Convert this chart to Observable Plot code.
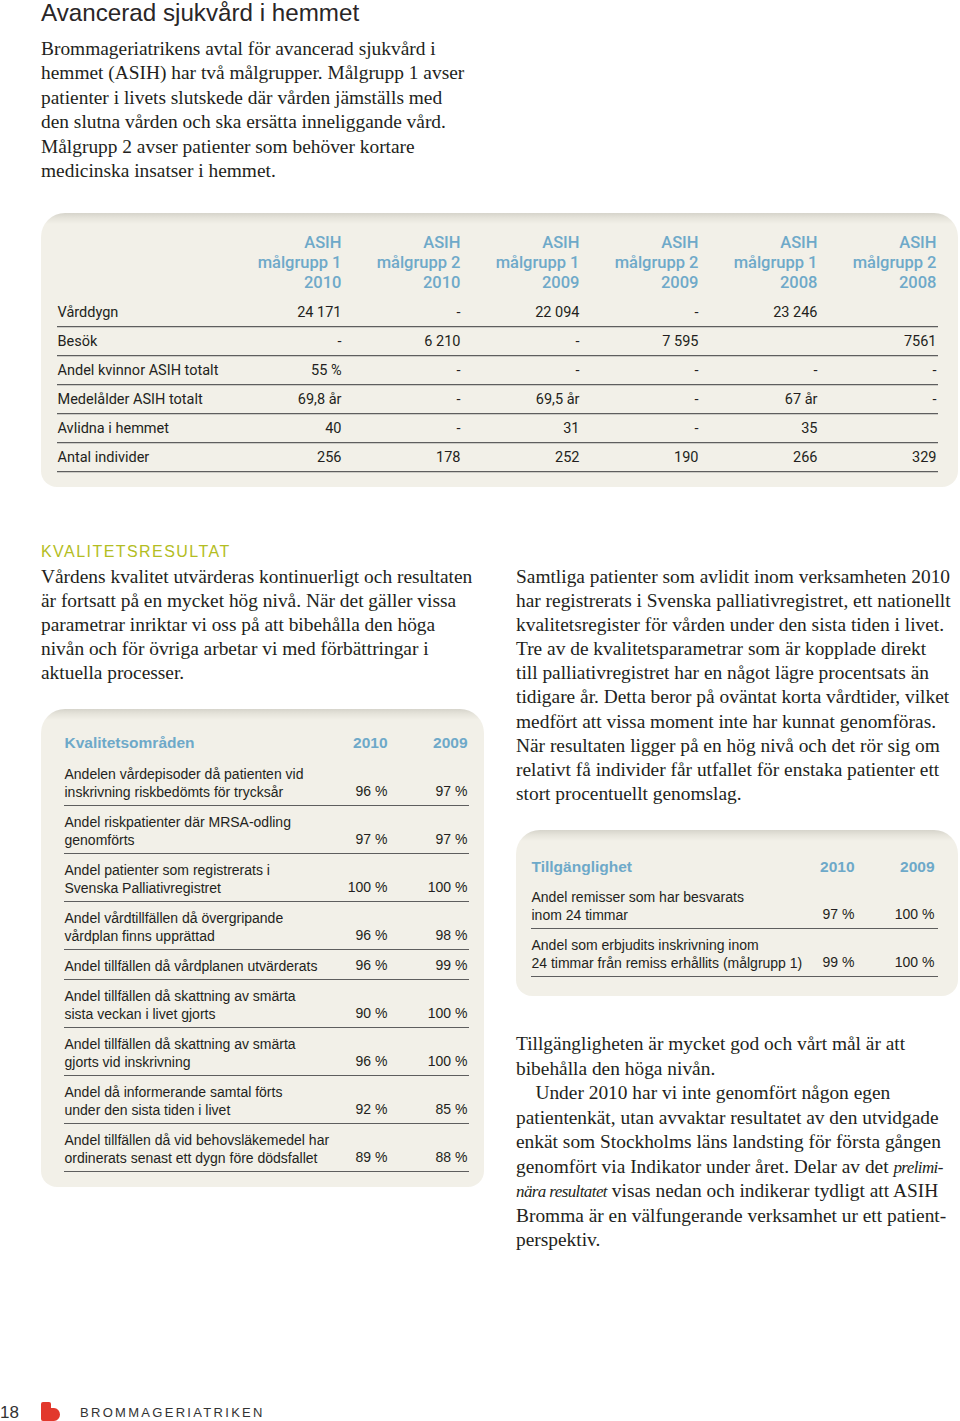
<!DOCTYPE html>
<html lang="sv">
<head>
<meta charset="utf-8">
<script src="https://cdn.jsdelivr.net/npm/d3@7"></script>
<script src="https://cdn.jsdelivr.net/npm/@observablehq/plot@0.6"></script>
<style>
  html, body { margin: 0; padding: 0; background: #fff; }
  #page { position: relative; width: 960px; height: 1421px; overflow: hidden; color: #231f20; }
  .serif { position: absolute; font-family: "Liberation Serif", serif; font-size: 19.4px; white-space: pre; color: #231f20; }
  .serif i { font-size: 17px; letter-spacing: -0.6px; line-height: 1; }
  .sans { position: absolute; font-family: "Liberation Sans", sans-serif; white-space: pre; }
  .box { position: absolute; border-radius: 24px 24px 16px 16px;
         background: linear-gradient(to bottom, #d6d4cb 0px, #e6e4db 5px, #f2f0e8 11px, #f2f0e8 100%); }
  .box svg { position: absolute; left: 0; top: 0; overflow: visible; }
</style>
</head>
<body>
<div id="page">
  <div class="sans" style="left:41px; top:-1px; font-size:24.2px; line-height:28px; color:#2a2627;">Avancerad sjukvård i hemmet</div>

  <div class="serif" style="left:41px; top:37px; line-height:24.4px;">Brommageriatrikens avtal för avancerad sjukvård i
hemmet (ASIH) har två målgrupper. Målgrupp 1 avser
patienter i livets slutskede där vården jämställs med
den slutna vården och ska ersätta inneliggande vård.
Målgrupp 2 avser patienter som behöver kortare
medicinska insatser i hemmet.</div>

  <div class="box" id="box1" style="left:41px; top:213px; width:917px; height:274px;"></div>

  <div class="sans" style="left:41px; top:542px; font-size:16px; line-height:20px; letter-spacing:1.45px; color:#b3bd22;">KVALITETSRESULTAT</div>

  <div class="serif" style="left:41px; top:565px; line-height:24px;">Vårdens kvalitet utvärderas kontinuerligt och resultaten
är fortsatt på en mycket hög nivå. När det gäller vissa
parametrar inriktar vi oss på att bibehålla den höga
nivån och för övriga arbetar vi med förbättringar i
aktuella processer.</div>

  <div class="serif" style="left:516px; top:565px; line-height:24.1px;">Samtliga patienter som avlidit inom verksamheten 2010
har registrerats i Svenska palliativregistret, ett nationellt
kvalitetsregister för vården under den sista tiden i livet.
Tre av de kvalitetsparametrar som är kopplade direkt
till palliativregistret har en något lägre procentsats än
tidigare år. Detta beror på oväntat korta vårdtider, vilket
medfört att vissa moment inte har kunnat genomföras.
När resultaten ligger på en hög nivå och det rör sig om
relativt få individer får utfallet för enstaka patienter ett
stort procentuellt genomslag.</div>

  <div class="box" id="box2" style="left:41px; top:709px; width:443px; height:478px;"></div>
  <div class="box" id="box3" style="left:516px; top:830px; width:442px; height:166px;"></div>

  <div class="serif" style="left:516px; top:1032px; line-height:24.5px;">Tillgängligheten är mycket god och vårt mål är att
bibehålla den höga nivån.
    Under 2010 har vi inte genomfört någon egen
patientenkät, utan avvaktar resultatet av den utvidgade
enkät som Stockholms läns landsting för första gången
genomfört via Indikator under året. Delar av det <i>prelimi-</i>
<i>nära resultatet</i> visas nedan och indikerar tydligt att ASIH
Bromma är en välfungerande verksamhet ur ett patient-
perspektiv.</div>

  <div class="sans" style="left:0px; top:1402px; font-size:17px; line-height:22px; color:#333;">18</div>
  <svg style="position:absolute; left:41px; top:1402px;" width="20" height="19" viewBox="0 0 20 19">
    <path d="M0,2 Q0,0 2,0 L8,0 Q10,0 10,2 L10,6 L13,6 A6,6.5 0 0 1 13,19 L2,19 Q0,19 0,17 Z" fill="#e2382c"/>
  </svg>
  <div class="sans" style="left:80px; top:1404px; font-size:13px; line-height:18px; letter-spacing:2.3px; color:#333;">BROMMAGERIATRIKEN</div>
</div>

<script>
// ---------- DATA ----------
const t1Columns = [
  "ASIH\nmålgrupp 1\n2010", "ASIH\nmålgrupp 2\n2010",
  "ASIH\nmålgrupp 1\n2009", "ASIH\nmålgrupp 2\n2009",
  "ASIH\nmålgrupp 1\n2008", "ASIH\nmålgrupp 2\n2008"
];
const t1Rows = [
  "Vårddygn", "Besök", "Andel kvinnor ASIH totalt",
  "Medelålder ASIH totalt", "Avlidna i hemmet", "Antal individer"
];
const t1Values = [
  ["24 171", "-", "22 094", "-", "23 246", ""],
  ["-", "6 210", "-", "7 595", "", "7561"],
  ["55 %", "-", "-", "-", "-", "-"],
  ["69,8 år", "-", "69,5 år", "-", "67 år", "-"],
  ["40", "-", "31", "-", "35", ""],
  ["256", "178", "252", "190", "266", "329"]
];

const qualityHeader = ["Kvalitetsområden", "2010", "2009"];
const qualityLabels = [
  "Andelen vårdepisoder då patienten vid\ninskrivning riskbedömts för trycksår",
  "Andel riskpatienter där MRSA-odling\ngenomförts",
  "Andel patienter som registrerats i\nSvenska Palliativregistret",
  "Andel vårdtillfällen då övergripande\nvårdplan finns upprättad",
  "Andel tillfällen då vårdplanen utvärderats",
  "Andel tillfällen då skattning av smärta\nsista veckan i livet gjorts",
  "Andel tillfällen då skattning av smärta\ngjorts vid inskrivning",
  "Andel då informerande samtal förts\nunder den sista tiden i livet",
  "Andel tillfällen då vid behovsläkemedel har\nordinerats senast ett dygn före dödsfallet"
];
const quality2010 = ["96 %", "97 %", "100 %", "96 %", "96 %", "90 %", "96 %", "92 %", "89 %"];
const quality2009 = ["97 %", "97 %", "100 %", "98 %", "99 %", "100 %", "100 %", "85 %", "88 %"];

const accessHeader = ["Tillgänglighet", "2010", "2009"];
const accessLabels = [
  "Andel remisser som har besvarats\ninom 24 timmar",
  "Andel som erbjudits inskrivning inom\n24 timmar från remiss erhållits (målgrupp 1)"
];
const access2010 = ["97 %", "99 %"];
const access2009 = ["100 %", "100 %"];

// ---------- STYLE ----------
const blue = "#6ea9c9";
const ink = "#231f20";
const ruleColor = "#5e5e5e";

// ---------- TABLE 1 ----------
{
  const W = 917, H = 274, mL = 16, mR = 20, mT = 83.4, mB = 15.4, labelW = 282;
  const cells = t1Rows.flatMap((r, i) => t1Columns.map((c, j) => ({row: r, col: c, value: t1Values[i][j]})));
  const band = (H - mT - mB) / t1Rows.length;
  const plot = Plot.plot({
    width: W, height: H,
    marginLeft: mL, marginRight: mR, marginTop: mT, marginBottom: mB,
    style: {background: "transparent", overflow: "visible", fontFamily: "Roboto, 'Liberation Sans', sans-serif"},
    x: {type: "point", domain: t1Columns, range: [mL + labelW, W - mR], padding: 0},
    y: {type: "band", domain: t1Rows, padding: 0, axis: null},
    marks: [
      Plot.axisX({anchor: "top", tickSize: 0, tickPadding: 9, label: null, textAnchor: "end",
                  color: blue, fontSize: 16.5, fontWeight: 500, lineHeight: 1.21}),
      Plot.ruleY(t1Rows, {y: d => d, dy: band / 2, stroke: ruleColor, strokeWidth: 1.2}),
      Plot.text(t1Rows, {y: d => d, text: d => d, frameAnchor: "left", textAnchor: "start",
                         fill: ink, fontSize: 14.5}),
      Plot.text(cells, {x: "col", y: "row", text: "value", textAnchor: "end", fill: ink, fontSize: 14.5})
    ]
  });
  document.getElementById("box1").appendChild(plot);
}

// ---------- LIST TABLES (2 & 3) ----------
function listTable({W, H, mL, mR, headerY, firstTop, colRight, header, labels, v1, v2}) {
  const fontSize = 14, lineGap = 18, firstLine = 16, after = 14;
  let top = firstTop;
  const rows = labels.map((label, i) => {
    const n = label.split("\n").length;
    const r = {label, n, top, values: [v1[i], v2[i]]};
    r.center = top + firstLine + (n - 1) * lineGap / 2;
    r.last = top + firstLine + (n - 1) * lineGap;
    top = r.last + after;
    r.bottom = top;
    return r;
  });
  const years = header.slice(1);
  const cells = rows.flatMap(r => years.map((yr, j) => ({col: yr, y: r.last, value: r.values[j]})));
  return Plot.plot({
    width: W, height: H,
    marginLeft: mL, marginRight: mR, marginTop: 0, marginBottom: 0,
    style: {background: "transparent", overflow: "visible", fontFamily: "'Liberation Sans', Arial, sans-serif"},
    x: {type: "point", domain: years, range: colRight, padding: 0, axis: null},
    y: {type: "linear", domain: [0, H], range: [0, H], axis: null},
    marks: [
      Plot.text([header[0]], {y: () => headerY, text: d => d, frameAnchor: "left", textAnchor: "start",
                              fill: blue, fontWeight: "bold", fontSize: 15.5}),
      Plot.text(years, {x: d => d, y: () => headerY, text: d => d, textAnchor: "end",
                        fill: blue, fontWeight: "bold", fontSize: 15.5}),
      Plot.ruleY(rows, {y: "bottom", stroke: ruleColor, strokeWidth: 1.2}),
      Plot.text(rows, {y: "center", text: "label", frameAnchor: "left", textAnchor: "start",
                       lineAnchor: "middle", lineHeight: lineGap / fontSize, fill: ink, fontSize}),
      Plot.text(cells, {x: "col", y: "y", text: "value", textAnchor: "end", fill: ink, fontSize})
    ]
  });
}

document.getElementById("box2").appendChild(listTable({
  W: 443, H: 478, mL: 23, mR: 15, headerY: 34, firstTop: 48, colRight: [346, 426],
  header: qualityHeader, labels: qualityLabels, v1: quality2010, v2: quality2009
}));

document.getElementById("box3").appendChild(listTable({
  W: 442, H: 166, mL: 15, mR: 20, headerY: 37, firstTop: 50, colRight: [338, 418],
  header: accessHeader, labels: accessLabels, v1: access2010, v2: access2009
}));
</script>
</body>
</html>
